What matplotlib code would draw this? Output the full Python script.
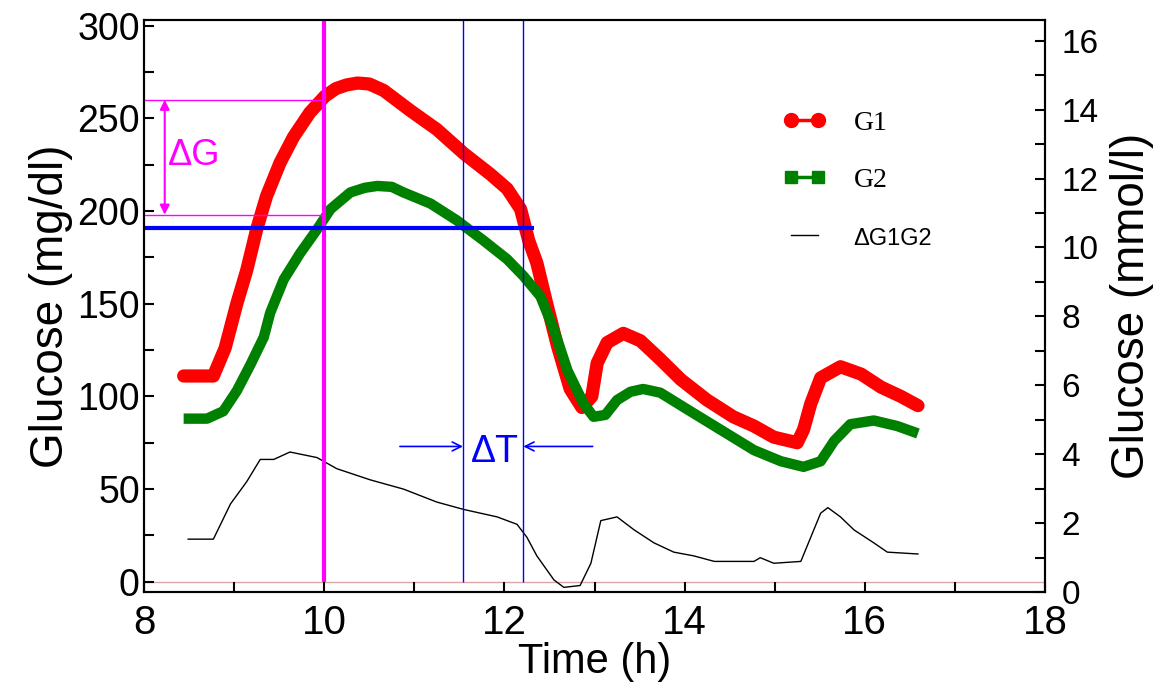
import numpy as np
import matplotlib.pyplot as plt
from matplotlib.lines import Line2D
from matplotlib.ticker import MultipleLocator

# G1 (red), G2 (green) and their difference
g1_t = [8.44, 8.77, 8.90, 9.03, 9.14, 9.25, 9.36, 9.51, 9.66, 9.84, 10.01, 10.13, 10.25,
        10.37, 10.50, 10.66, 10.96, 11.25, 11.55, 11.84, 12.03, 12.18, 12.27, 12.36, 12.47,
        12.59, 12.73, 12.86, 12.97, 13.03, 13.14, 13.32, 13.51, 13.73, 13.96, 14.25, 14.54,
        14.77, 14.99, 15.25, 15.32, 15.40, 15.51, 15.73, 15.96, 16.18, 16.40, 16.59]
g1 = [111, 111, 126, 150, 168, 190, 208, 226, 240, 253, 262, 266, 268,
      269, 268.5, 265, 254, 244, 231, 220, 212, 201, 184, 172, 150,
      127, 104, 94, 100, 118, 129, 134, 130, 120, 109, 98, 89,
      84, 78, 75, 82, 96, 110, 116, 112, 105, 100, 95]

g2_t = [8.44, 8.70, 8.88, 9.03, 9.18, 9.33, 9.40, 9.55, 9.73, 9.92, 10.07, 10.29, 10.45,
        10.59, 10.75, 10.88, 11.18, 11.47, 11.77, 12.03, 12.21, 12.40, 12.55, 12.70, 12.88,
        12.99, 13.12, 13.25, 13.40, 13.54, 13.73, 14.03, 14.40, 14.77, 15.07, 15.32, 15.51,
        15.66, 15.84, 16.10, 16.36, 16.59]
g2 = [88, 88, 92, 103, 117, 132, 145, 163, 177, 190, 201, 210, 212.5,
      213.5, 213, 210, 204, 195, 184, 174, 165, 154, 136, 114, 96,
      89, 90, 98, 102.5, 104, 102, 93, 82, 71, 65, 62, 65,
      76, 85, 87, 84, 80]

d_t = [8.49, 8.77, 8.96, 9.14, 9.29, 9.44, 9.62, 9.92, 10.14, 10.51, 10.88, 11.25, 11.55,
       11.92, 12.14, 12.25, 12.36, 12.55, 12.66, 12.84, 12.96, 13.07, 13.25, 13.44, 13.66,
       13.88, 14.10, 14.33, 14.77, 14.84, 14.99, 15.29, 15.40, 15.51, 15.59, 15.73, 15.88,
       16.10, 16.25, 16.59]
d_g = [23, 23, 42, 54, 66, 66, 70, 67, 61, 55, 50, 43, 39,
       35, 31, 24, 14, 1, -3, -2, 10, 33, 35, 28, 21,
       16, 14, 11, 11, 13, 10, 11, 24, 37, 40, 35, 28,
       21, 16, 15]

# annotation levels
t_mark = 10.0
g_hi, g_lo = 260, 198
g_thr = 191
t_cross = [11.54, 12.21]

red = '#ff0000'
green = '#008000'
magenta = '#ff00ff'
blue = '#0000ff'

plt.rcParams['font.family'] = ['Liberation Sans', 'DejaVu Sans']
narrow = ['Liberation Sans Narrow', 'Liberation Sans', 'DejaVu Sans']

fig = plt.figure(figsize=(11.61, 6.87), dpi=100)
ax = fig.add_axes([144 / 1161, 1 - 592 / 687, 901 / 1161, 572 / 687])
ax2 = ax.twinx()

ax.set_xlim(8, 18)
ax.set_ylim(-5.5, 303)
ax2.set_ylim(0, 16.6)

ax.axhline(0, color='#d8a8a8', lw=1, zorder=1)

ax.plot(d_t, d_g, color='black', lw=1, zorder=3)
ax.plot(g2_t, g2, color=green, lw=7.5, solid_capstyle='butt', solid_joinstyle='round', zorder=4)
ax.plot(g1_t, g1, color=red, lw=9.5, solid_capstyle='round', solid_joinstyle='round', zorder=3.5)

# delta G marks
ax.vlines(t_mark, 0, 303, color=magenta, lw=3, zorder=5)
ax.hlines([g_hi, g_lo], 8, t_mark, color=magenta, lw=1, zorder=5)
ax.annotate('', xy=(8.23, g_lo), xytext=(8.23, g_hi),
            arrowprops=dict(arrowstyle='<|-|>', color=magenta, lw=1.5,
                            mutation_scale=14, shrinkA=0, shrinkB=0))
ax.text(8.27, 230, '\u0394G', color=magenta, fontsize=26, ha='left', va='center')

# delta T marks
ax.hlines(g_thr, 8, 12.33, color=blue, lw=3, zorder=6)
ax.vlines(t_cross, 0, 303, color=blue, lw=1, zorder=5)
ax.annotate('', xy=(t_cross[0], 73), xytext=(10.84, 73),
            arrowprops=dict(arrowstyle='->', color=blue, lw=1.2,
                            mutation_scale=16, shrinkA=0, shrinkB=0))
ax.annotate('', xy=(t_cross[1], 73), xytext=(12.98, 73),
            arrowprops=dict(arrowstyle='->', color=blue, lw=1.2,
                            mutation_scale=16, shrinkA=0, shrinkB=0))
ax.text(11.89, 70, '\u0394T', color=blue, fontsize=27, ha='center', va='center')

# axes styling
ax.xaxis.set_major_locator(MultipleLocator(2))
ax.xaxis.set_minor_locator(MultipleLocator(1))
ax.yaxis.set_major_locator(MultipleLocator(50))
ax.yaxis.set_minor_locator(MultipleLocator(25))
ax2.yaxis.set_major_locator(MultipleLocator(2))
ax2.yaxis.set_minor_locator(MultipleLocator(1))

for a in (ax, ax2):
    for s in a.spines.values():
        s.set_linewidth(1.5)

ax.tick_params(axis='both', which='both', direction='in', length=7, width=1.5,
               top=False, right=False)
ax.tick_params(axis='y', labelsize=27, pad=3)
ax.tick_params(axis='x', labelsize=29, pad=9)
for lab in ax.get_xticklabels():
    lab.set_family(narrow)
ax2.tick_params(axis='y', which='both', direction='in', length=7, width=1.5,
                labelsize=24, pad=12)

ax.set_xlabel('Time (h)', fontsize=30, family=narrow, labelpad=0)
ax.set_ylabel('Glucose (mg/dl)', fontsize=33, labelpad=3)
ax2.set_ylabel('Glucose (mmol/l)', fontsize=33, labelpad=8)

handles = [
    Line2D([], [], color=red, lw=2.5, marker='o', ms=10, mfc=red, mec=red, mew=1),
    Line2D([], [], color=green, lw=2.5, marker='s', ms=8, mfc=green, mec=green),
    Line2D([], [], color='black', lw=1),
]
leg = ax.legend(handles, ['G1', 'G2', '\u0394G1G2'], loc='upper left',
                bbox_to_anchor=(0.709, 0.842), frameon=False, numpoints=2,
                handlelength=1.55, handletextpad=1.0, labelspacing=1.15,
                borderpad=0, borderaxespad=0, prop={'size': 20})
txts = leg.get_texts()
txts[0].set_family(['Liberation Serif', 'DejaVu Serif'])
txts[1].set_family(['Liberation Serif', 'DejaVu Serif'])
txts[2].set_fontsize(17)

fig.savefig('out.png', dpi=100)
